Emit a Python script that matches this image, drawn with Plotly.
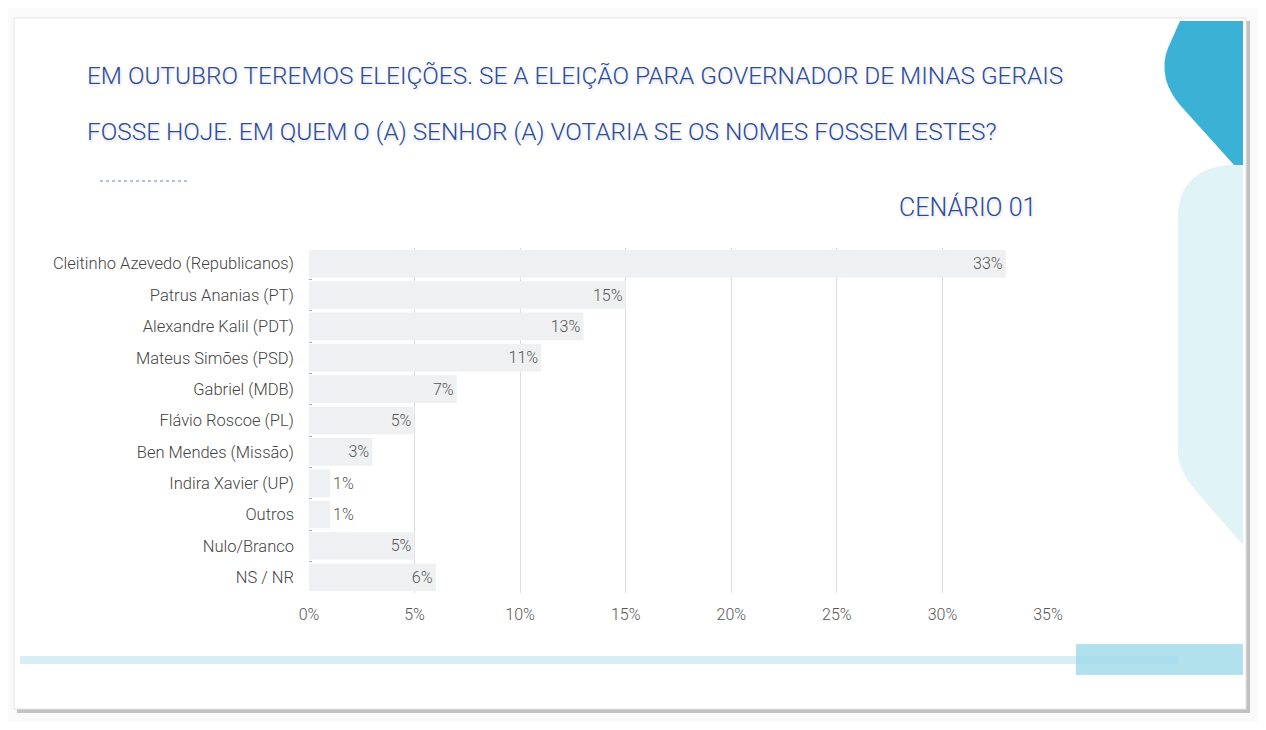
import plotly.graph_objects as go

# a página tem 8px de margem; a figura ocupa 1250x714 a partir de (8, 8)
W, H = 1250, 714
OFF = 8

# dados do cenário 01
candidatos = ["Cleitinho Azevedo (Republicanos)", "Patrus Ananias (PT)", "Alexandre Kalil (PDT)",
              "Mateus Simões (PSD)", "Gabriel (MDB)", "Flávio Roscoe (PL)", "Ben Mendes (Missão)",
              "Indira Xavier (UP)", "Outros", "Nulo/Branco", "NS / NR"]
percentuais = [33, 15, 13, 11, 7, 5, 3, 1, 1, 5, 6]
ticks_x = [0, 5, 10, 15, 20, 25, 30, 35]

titulo_l1 = "EM OUTUBRO TEREMOS ELEIÇÕES. SE A ELEIÇÃO PARA GOVERNADOR DE MINAS GERAIS"
titulo_l2 = "FOSSE HOJE. EM QUEM O (A) SENHOR (A) VOTARIA SE OS NOMES FOSSEM ESTES?"
cenario = "CENÁRIO 01"

FONTE = "Roboto, Liberation Sans, sans-serif"
AZUL = "#2a4a9e"
SOMBRA = "1px 2px 3px rgba(0,0,0,0.15)"


def px(x):  # pixel da imagem -> paper x
    return (x - OFF) / W


def py(y):  # pixel da imagem -> paper y
    return 1 - (y - OFF) / H


pos_texto = ["inside" if v >= 3 else "outside" for v in percentuais]

fig = go.Figure(go.Bar(
    y=candidatos, x=percentuais, orientation="h",
    marker=dict(color="#eef0f1", line=dict(width=0)),
    text=[f"{v}%" for v in percentuais], textposition=pos_texto,
    insidetextanchor="end", textangle=0,
    textfont=dict(family=FONTE, size=16, color="#555555", weight=300),
    cliponaxis=False,
))

shapes = [
    # sombra e slide
    dict(type="rect", xref="paper", yref="paper", x0=px(17), x1=px(1250), y0=py(713), y1=py(21),
         fillcolor="#9c9c9c", line=dict(width=0), layer="below", opacity=0.6),
    dict(type="rect", xref="paper", yref="paper", x0=px(14), x1=px(1246), y0=py(709), y1=py(18),
         fillcolor="white", line=dict(color="#e4e4e4", width=1), layer="below"),
    # forma azul superior direita
    dict(type="path", xref="paper", yref="paper", layer="below",
         path=f"M {px(1243)},{py(21)} L {px(1180)},{py(21)} L {px(1168)},{py(48)} "
              f"Q {px(1162)},{py(62)} {px(1166)},{py(80)} Q {px(1170)},{py(93)} {px(1180)},{py(105)} "
              f"L {px(1243)},{py(175)} Z",
         fillcolor="#3bb2d5", line=dict(width=0)),
    # forma azul clara
    dict(type="path", xref="paper", yref="paper", layer="below",
         path=f"M {px(1243)},{py(165)} L {px(1228)},{py(165)} Q {px(1180)},{py(170)} {px(1178)},{py(215)} "
              f"L {px(1178)},{py(455)} Q {px(1180)},{py(472)} {px(1195)},{py(490)} L {px(1243)},{py(545)} Z",
         fillcolor="#e0f3f7", line=dict(width=0)),
    # faixa inferior
    dict(type="rect", xref="paper", yref="paper", x0=px(20), x1=px(1178), y0=py(664), y1=py(656),
         fillcolor="#d6eef4", line=dict(width=0), layer="below"),
    dict(type="rect", xref="paper", yref="paper", x0=px(1076), x1=px(1243), y0=py(675), y1=py(644),
         fillcolor="#9fd9ea", opacity=0.8, line=dict(width=0), layer="below"),
    # linha pontilhada sob o título
    dict(type="line", xref="paper", yref="paper", x0=px(100), x1=px(188), y0=py(181), y1=py(181),
         line=dict(color="#6a7fc0", width=1.2, dash="dot")),
]

fonte_titulo = dict(family=FONTE, size=24.4, color=AZUL, weight=300, shadow=SOMBRA)
annotations = [
    dict(text=titulo_l1, xref="paper", yref="paper", x=px(85), y=py(75), xanchor="left", yanchor="middle",
         showarrow=False, font=fonte_titulo),
    dict(text=titulo_l2, xref="paper", yref="paper", x=px(85), y=py(131), xanchor="left", yanchor="middle",
         showarrow=False, font=fonte_titulo),
    dict(text=cenario, xref="paper", yref="paper", x=px(1038), y=py(207), xanchor="right", yanchor="middle",
         showarrow=False, font=dict(family=FONTE, size=25, color=AZUL, weight=300, shadow=SOMBRA)),
]

fig.update_layout(
    width=W, height=H,
    margin=dict(l=0, r=0, t=0, b=0, pad=0, autoexpand=False),
    paper_bgcolor="#fafafa", plot_bgcolor="rgba(0,0,0,0)",
    showlegend=False, bargap=0.12,
    shapes=shapes, annotations=annotations,
    xaxis=dict(domain=[px(309), px(1048)], range=[0, 35], tickvals=ticks_x, automargin=False,
               ticktext=[f"{t}%" for t in ticks_x], showgrid=True, gridcolor="#dcdcdc",
               gridwidth=1, zeroline=False, showline=False, ticks="", ticklabelstandoff=10,
               tickfont=dict(family=FONTE, size=16, color="#555555", weight=300)),
    yaxis=dict(domain=[py(593), py(248)], autorange="reversed", showgrid=False, automargin=False,
               showline=False, ticks="inside", ticklen=3, tickcolor="#aaaaaa", tickson="boundaries",
               ticklabelstandoff=14,
               tickfont=dict(family=FONTE, size=16.5, color="#444444", weight=300)),
)

fig.write_html("out.html")
